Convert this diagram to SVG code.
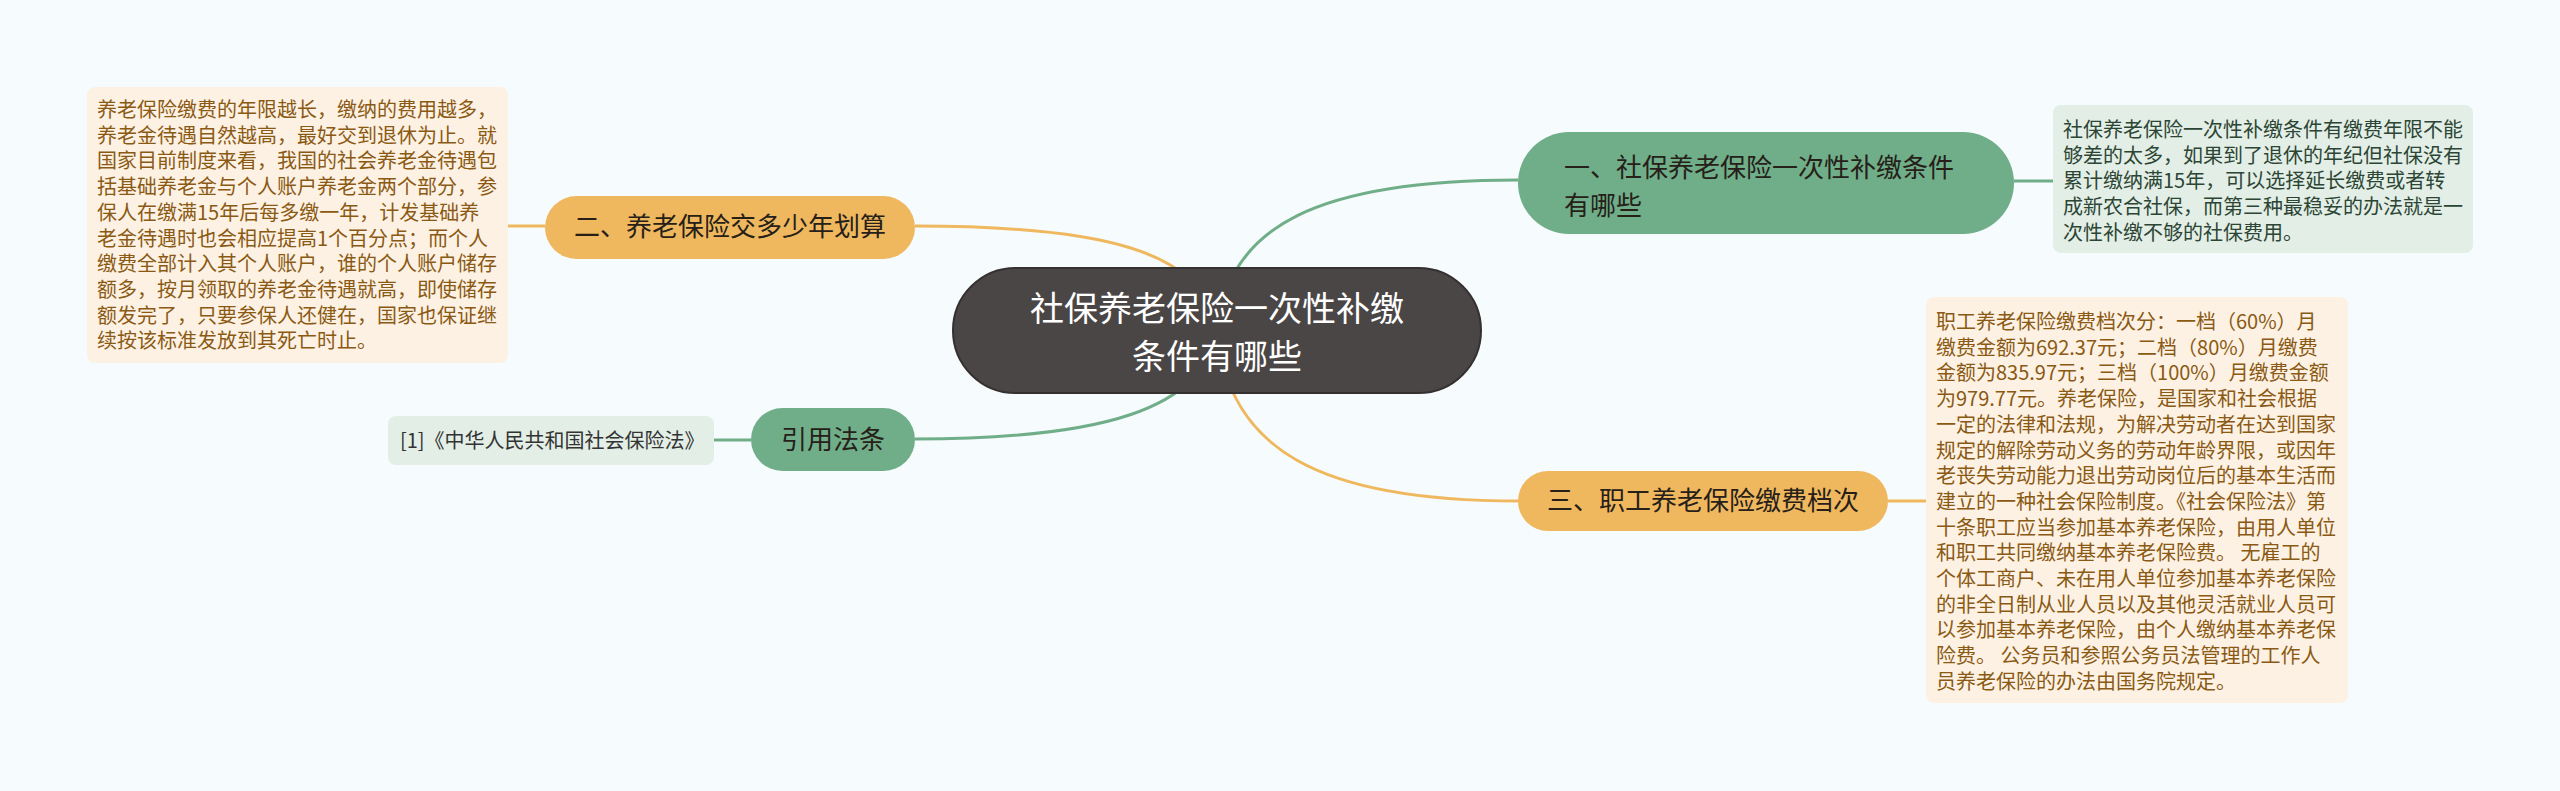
<svg xmlns="http://www.w3.org/2000/svg" width="2560" height="791" viewBox="0 0 2560 791">
<style>
.t{font-family:"Noto Sans CJK SC","Noto Sans",sans-serif}
.root-text{font-size:34px;fill:#ffffff;text-anchor:middle}
.main{font-size:26px;fill:#262019}
.mainc{font-size:26px;fill:#262019;text-anchor:middle}
.note-o{font-size:20px;fill:#8a5a14}
.note-g{font-size:20px;fill:#2c4534}
.ref{font-size:20px;fill:#333333}
.cg{fill:none;stroke:#6fae88;stroke-width:3}
.co{fill:none;stroke:#efb85f;stroke-width:3}
</style>
<rect x="0" y="0" width="2560" height="791" fill="#f6fbfd"/>
<g id="connectors">
<path class="cg" d="M1217,330 C1228,225 1320,180 1518,180"/>
<path class="co" d="M1217,330 C1205,250 1100,226 915,226"/>
<path class="cg" d="M1217,330 C1205,410 1100,439 915,439"/>
<path class="co" d="M1217,330 C1228,450 1320,501 1518,501"/>
<line class="cg" x1="2014" y1="181" x2="2053" y2="181"/>
<line class="co" x1="508" y1="226" x2="545" y2="226"/>
<line class="cg" x1="714" y1="440" x2="751" y2="440"/>
<line class="co" x1="1888" y1="501" x2="1926" y2="501"/>
</g>
<g id="root">
<rect x="953" y="268" width="528" height="125" rx="62.5" fill="#4b4646" stroke="#363131" stroke-width="2"/>
<text class="t root-text" x="1217" y="321">社保养老保险一次性补缴</text>
<text class="t root-text" x="1217" y="369">条件有哪些</text>
</g>
<g id="node1">
<rect x="1518" y="132" width="496" height="102" rx="51" fill="#6fae88"/>
<text class="t main" x="1564" y="177">一、社保养老保险一次性补缴条件</text>
<text class="t main" x="1564" y="215">有哪些</text>
</g>
<g id="note1">
<rect x="2053" y="105" width="420" height="148" rx="8" fill="#e2eee6"/>
<text class="t note-g">
<tspan x="2063" y="137">社保养老保险一次性补缴条件有缴费年限不能</tspan>
<tspan x="2063" y="162.7">够差的太多，如果到了退休的年纪但社保没有</tspan>
<tspan x="2063" y="188.4">累计缴纳满15年，可以选择延长缴费或者转</tspan>
<tspan x="2063" y="214.1">成新农合社保，而第三种最稳妥的办法就是一</tspan>
<tspan x="2063" y="239.8">次性补缴不够的社保费用。</tspan>
</text>
</g>
<g id="node2">
<rect x="545" y="196" width="370" height="63" rx="31.5" fill="#efb85f"/>
<text class="t mainc" x="730" y="236">二、养老保险交多少年划算</text>
</g>
<g id="note2">
<rect x="87" y="87" width="421" height="276" rx="8" fill="#fdf1e3"/>
<text class="t note-o">
<tspan x="97" y="117">养老保险缴费的年限越长，缴纳的费用越多，</tspan>
<tspan x="97" y="142.7">养老金待遇自然越高，最好交到退休为止。就</tspan>
<tspan x="97" y="168.4">国家目前制度来看，我国的社会养老金待遇包</tspan>
<tspan x="97" y="194.1">括基础养老金与个人账户养老金两个部分，参</tspan>
<tspan x="97" y="219.8">保人在缴满15年后每多缴一年，计发基础养</tspan>
<tspan x="97" y="245.5">老金待遇时也会相应提高1个百分点；而个人</tspan>
<tspan x="97" y="271.2">缴费全部计入其个人账户，谁的个人账户储存</tspan>
<tspan x="97" y="296.9">额多，按月领取的养老金待遇就高，即使储存</tspan>
<tspan x="97" y="322.6">额发完了，只要参保人还健在，国家也保证继</tspan>
<tspan x="97" y="348.3">续按该标准发放到其死亡时止。</tspan>
</text>
</g>
<g id="node3">
<rect x="751" y="408" width="164" height="63" rx="31.5" fill="#6fae88"/>
<text class="t mainc" x="833" y="449">引用法条</text>
</g>
<g id="note3">
<rect x="388" y="416" width="326" height="49" rx="8" fill="#e2eee6"/>
<text class="t ref" x="400" y="448">[1]《中华人民共和国社会保险法》</text>
</g>
<g id="node4">
<rect x="1518" y="471" width="370" height="60" rx="30" fill="#efb85f"/>
<text class="t mainc" x="1703" y="510">三、职工养老保险缴费档次</text>
</g>
<g id="note4">
<rect x="1926" y="297" width="422" height="406" rx="8" fill="#fdf1e3"/>
<text class="t note-o">
<tspan x="1936" y="329">职工养老保险缴费档次分：一档（60%）月</tspan>
<tspan x="1936" y="354.7">缴费金额为692.37元；二档（80%）月缴费</tspan>
<tspan x="1936" y="380.4">金额为835.97元；三档（100%）月缴费金额</tspan>
<tspan x="1936" y="406.1">为979.77元。养老保险，是国家和社会根据</tspan>
<tspan x="1936" y="431.8">一定的法律和法规，为解决劳动者在达到国家</tspan>
<tspan x="1936" y="457.5">规定的解除劳动义务的劳动年龄界限，或因年</tspan>
<tspan x="1936" y="483.2">老丧失劳动能力退出劳动岗位后的基本生活而</tspan>
<tspan x="1936" y="508.9">建立的一种社会保险制度。《社会保险法》第</tspan>
<tspan x="1936" y="534.6">十条职工应当参加基本养老保险，由用人单位</tspan>
<tspan x="1936" y="560.3">和职工共同缴纳基本养老保险费。 无雇工的</tspan>
<tspan x="1936" y="586">个体工商户、未在用人单位参加基本养老保险</tspan>
<tspan x="1936" y="611.7">的非全日制从业人员以及其他灵活就业人员可</tspan>
<tspan x="1936" y="637.4">以参加基本养老保险，由个人缴纳基本养老保</tspan>
<tspan x="1936" y="663.1">险费。 公务员和参照公务员法管理的工作人</tspan>
<tspan x="1936" y="688.8">员养老保险的办法由国务院规定。</tspan>
</text>
</g>
</svg>
